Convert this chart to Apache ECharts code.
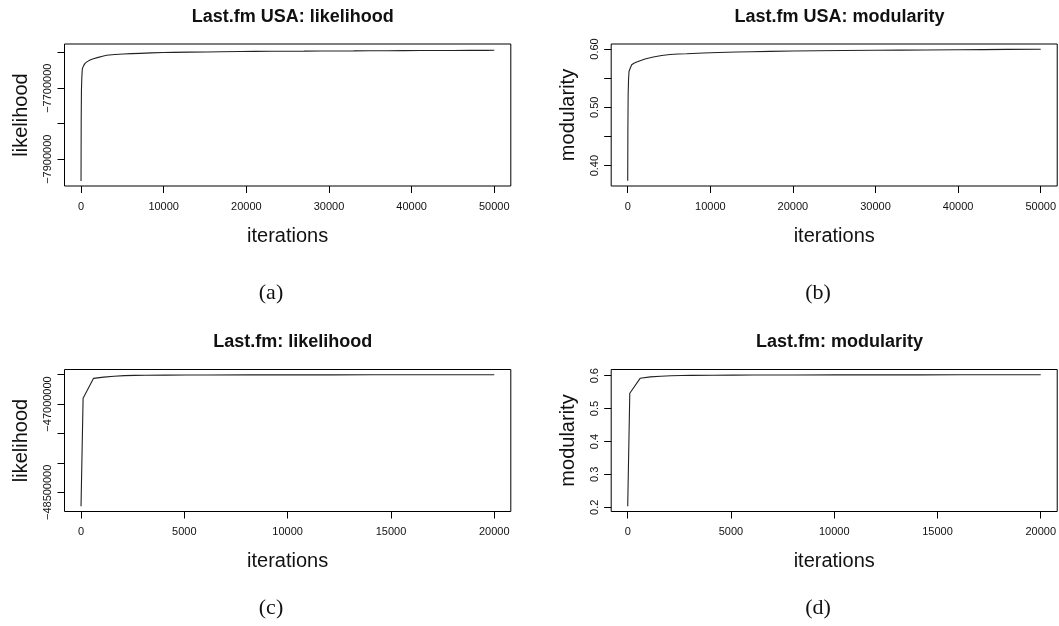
<!DOCTYPE html>
<html>
<head>
<meta charset="utf-8">
<script src="https://cdn.jsdelivr.net/npm/echarts@6/dist/echarts.min.js"></script>
<style>
html,body{margin:0;padding:0;background:#fff;}
#c{width:1059px;height:626px;}
</style>
</head>
<body>
<div id="c"></div>
<script>
// ---- data ----
const titles = ['Last.fm USA: likelihood', 'Last.fm USA: modularity', 'Last.fm: likelihood', 'Last.fm: modularity'];
const yNames = ['likelihood', 'modularity', 'likelihood', 'modularity'];
const captions = ['(a)', '(b)', '(c)', '(d)'];

const aIter = [0, 20, 50, 100, 160, 300, 480, 750, 1090, 1500, 2090, 2600, 3100, 4100, 5120, 6100, 7140, 8500, 10000, 11170, 13000, 15200, 17000, 19240, 21000, 23000, 25000, 27000, 29000, 31100, 33000, 35000, 37000, 39000, 41000, 43000, 45000, 47000, 49000, 50000];
const aVal = [-7961000, -7790000, -7705000, -7668000, -7645000, -7637000, -7630000, -7625000, -7620600, -7617000, -7613000, -7610000, -7607300, -7605000, -7603700, -7602600, -7601700, -7600500, -7599500, -7599000, -7598400, -7598000, -7597300, -7596500, -7596300, -7596000, -7595800, -7595600, -7595200, -7595000, -7594800, -7594500, -7594300, -7594000, -7593800, -7593700, -7593600, -7593400, -7593300, -7593200];

const bIter = [0, 20, 50, 100, 157, 300, 480, 750, 1090, 1500, 2090, 2600, 3100, 4110, 5120, 6100, 7130, 9150, 11000, 13180, 15000, 17210, 20000, 23000, 26000, 30000, 33000, 36000, 40000, 43000, 46000, 50000];
const bVal = [0.3740, 0.46, 0.52, 0.548, 0.5615, 0.567, 0.573, 0.5755, 0.5777, 0.5800, 0.5828, 0.5845, 0.5862, 0.5890, 0.5907, 0.5914, 0.5919, 0.5931, 0.5940, 0.5948, 0.5954, 0.5959, 0.5966, 0.5970, 0.5974, 0.5978, 0.5981, 0.5983, 0.5987, 0.5990, 0.5993, 0.5995];

const cIter = [0, 100, 600, 1100, 1600, 2100, 2600, 3100, 4100, 5100, 6100, 8100, 10100, 12100, 14100, 16100, 18100, 20000];
const cVal = [-48736000, -46905000, -46566000, -46545000, -46530000, -46519000, -46514000, -46512000, -46510000, -46509000, -46508000, -46507000, -46506000, -46505500, -46505000, -46504800, -46504500, -46504000];

const dIter = [0, 100, 600, 1100, 1600, 2100, 2600, 3100, 4100, 5100, 6100, 8100, 10100, 12100, 14100, 16100, 18100, 20000];
const dVal = [0.2032, 0.5465, 0.5920, 0.5965, 0.5985, 0.5998, 0.6005, 0.6010, 0.6015, 0.6018, 0.6020, 0.6022, 0.6024, 0.6025, 0.6026, 0.6027, 0.6028, 0.6028];

const xTicksAB = [0, 10000, 20000, 30000, 40000, 50000];
const xTicksCD = [0, 5000, 10000, 15000, 20000];
const yTicksA = [-7900000, -7800000, -7700000, -7600000];
const yLabelsA = [-7900000, -7700000];
const yTicksB = [0.40, 0.45, 0.50, 0.55, 0.60];
const yLabelsB = [0.40, 0.50, 0.60];
const yTicksC = [-48500000, -48000000, -47500000, -47000000, -46500000];
const yLabelsC = [-48500000, -47000000];
const yTicksD = [0.2, 0.3, 0.4, 0.5, 0.6];
const yLabelsD = [0.2, 0.3, 0.4, 0.5, 0.6];

// ---- layout ----
const grids = [
  {left: 64.5, top: 44, width: 446.3, height: 142},
  {left: 611.2, top: 44, width: 446.4, height: 142},
  {left: 64.5, top: 369.5, width: 446.3, height: 142},
  {left: 611.2, top: 369.5, width: 446.4, height: 142}
];
const xRanges = [[-2000, 52000], [-2000, 52000], [-800, 20800], [-800, 20800]];
const yRanges = [[-7975400, -7575400], [0.365, 0.6086], [-48825000, -46415000], [0.1872, 0.6188]];
const xTicks = [xTicksAB, xTicksAB, xTicksCD, xTicksCD];
const yTicks = [yTicksA, yTicksB, yTicksC, yTicksD];
const yLabels = [yLabelsA, yLabelsB, yLabelsC, yLabelsD];
const yFmt = [
  v => String(Math.round(v)).replace('-', '\u2212'),
  v => v.toFixed(2),
  v => String(Math.round(v)).replace('-', '\u2212'),
  v => v.toFixed(1)
];
const series = [[aIter, aVal], [bIter, bVal], [cIter, cVal], [dIter, dVal]];

const FONT = '"Liberation Sans", Arial, Helvetica, sans-serif';
const INK = '#111';

const option = {
  backgroundColor: '#fff',
  animation: false,
  title: grids.map((g, i) => ({
    text: titles[i],
    left: g.left + g.width / 2,
    top: g.top - 41,
    textAlign: 'center',
    textStyle: {fontFamily: FONT, fontWeight: 'bold', fontSize: 18, color: INK}
  })),
  grid: grids.map(g => Object.assign({show: true, borderColor: '#000', borderWidth: 1, backgroundColor: 'transparent'}, g)),
  xAxis: grids.map((g, i) => ({
    type: 'value',
    gridIndex: i,
    min: xRanges[i][0],
    max: xRanges[i][1],
    name: 'iterations',
    nameLocation: 'middle',
    nameGap: 40,
    nameTextStyle: {fontFamily: FONT, fontSize: 20, color: INK},
    splitLine: {show: false},
    axisLine: {show: false, onZero: false},
    axisTick: {show: true, inside: false, length: 7, customValues: xTicks[i], lineStyle: {color: '#000', width: 1}},
    axisLabel: {show: true, margin: 15, customValues: xTicks[i], fontFamily: FONT, fontSize: 11, color: INK, formatter: v => String(v)}
  })),
  yAxis: grids.map((g, i) => ({
    type: 'value',
    gridIndex: i,
    min: yRanges[i][0],
    max: yRanges[i][1],
    name: yNames[i],
    nameLocation: 'middle',
    nameRotate: 90,
    nameGap: 33,
    nameTextStyle: {fontFamily: FONT, fontSize: 20, color: INK},
    splitLine: {show: false},
    axisLine: {show: false, onZero: false},
    axisTick: {show: true, inside: false, length: 7, customValues: yTicks[i], lineStyle: {color: '#000', width: 1}},
    axisLabel: {show: true, rotate: 90, margin: 11, customValues: yLabels[i], fontFamily: FONT, fontSize: 11, color: INK, formatter: yFmt[i]}
  })),
  series: series.map((s, i) => ({
    type: 'line',
    xAxisIndex: i,
    yAxisIndex: i,
    data: s[0].map((x, k) => [x, s[1][k]]),
    showSymbol: false,
    symbol: 'none',
    lineStyle: {color: '#222', width: 1.1},
    silent: true
  })),
  graphic: [
    {type: 'text', x: 271, y: 293, style: {text: captions[0], font: '22px "Liberation Serif", "DejaVu Serif", serif', fill: '#111', textAlign: 'center', textVerticalAlign: 'middle'}},
    {type: 'text', x: 818, y: 293, style: {text: captions[1], font: '22px "Liberation Serif", "DejaVu Serif", serif', fill: '#111', textAlign: 'center', textVerticalAlign: 'middle'}},
    {type: 'text', x: 271, y: 608, style: {text: captions[2], font: '22px "Liberation Serif", "DejaVu Serif", serif', fill: '#111', textAlign: 'center', textVerticalAlign: 'middle'}},
    {type: 'text', x: 818, y: 608, style: {text: captions[3], font: '22px "Liberation Serif", "DejaVu Serif", serif', fill: '#111', textAlign: 'center', textVerticalAlign: 'middle'}}
  ]
};

const chart = echarts.init(document.getElementById('c'), null, {renderer: 'canvas'});
chart.setOption(option);
</script>
</body>
</html>
